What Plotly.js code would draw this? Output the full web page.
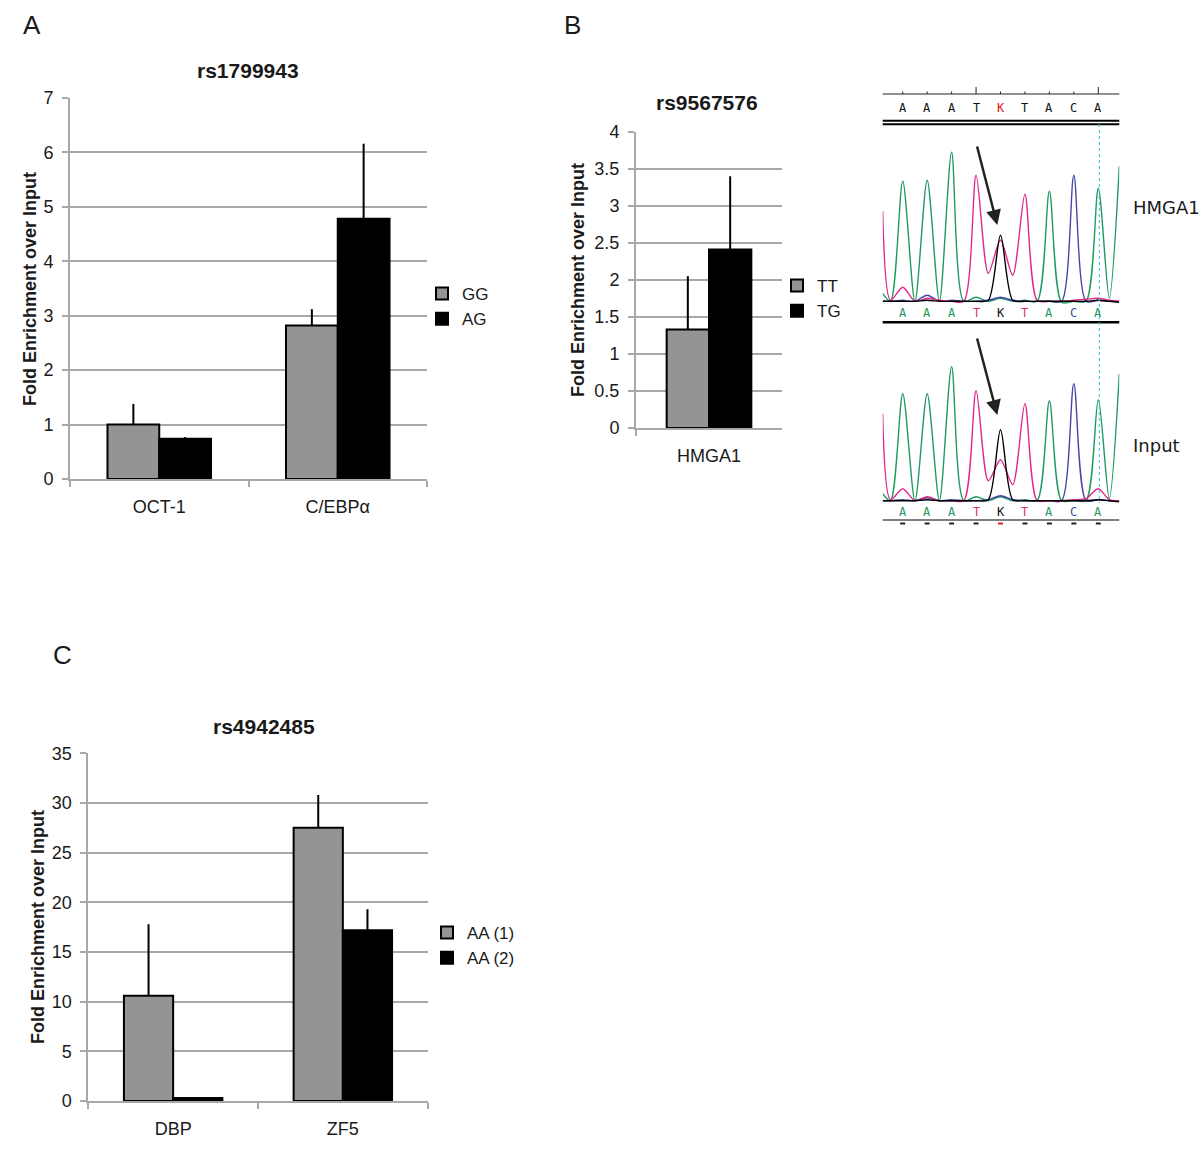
<!DOCTYPE html>
<html>
<head>
<meta charset="utf-8">
<script src="https://cdn.plot.ly/plotly-3.0.1.min.js"></script>
<style>body{margin:0;background:#fff}#fig{width:1200px;height:1149px}</style>
</head>
<body>
<div id="fig"></div>
<script>
// A: rs1799943
var catsA = ['OCT-1', 'C/EBPα'];
var ggVals = [1.0, 2.82];
var ggErr = [0.38, 0.30];
var agVals = [0.74, 4.78];
var agErr = [0.03, 1.38];

// B: rs9567576
var catsB = ['HMGA1'];
var ttVals = [1.33];
var ttErr = [0.72];
var tgVals = [2.41];
var tgErr = [0.99];

// C: rs4942485
var catsC = ['DBP', 'ZF5'];
var aa1Vals = [10.6, 27.5];
var aa1Err = [7.2, 3.3];
var aa2Vals = [0.3, 17.2];
var aa2Err = [0, 2.1];

// chromatogram: base calls and trace knots (x in base index, y in signal)
var seqTop = ['A', 'A', 'A', 'T', 'K', 'T', 'A', 'C', 'A'];
var knotX = [-0.82, -0.5, 0, 0.5, 1, 1.5, 2, 2.5, 3, 3.5, 4, 4.5, 5, 5.5, 6, 6.5, 7, 7.5, 8, 8.45, 8.86];
var hmGreen = [10, 2, 122, 2, 123, 2, 151, 2, 6, 2, 5, 2, 3, 2, 112, 1, 2, 2, 115, 5, 137];
var hmPink  = [92, 3, 16, 2, 5, 3, 2, 2, 128, 30, 63, 28, 109, 3, 2, 2, 3, 4, 5, 3, 2];
var hmBlue  = [2, 2, 3, 2, 8, 2, 3, 2, 2, 3, 6, 3, 2, 2, 2, 2, 128, 2, 3, 2, 2];
var hmBlack = [2, 2, 2, 2, 3, 2, 2, 2, 2, 3, 68, 3, 2, 2, 2, 2, 2, 2, 3, 2, 1];
var inGreen = [9, 2, 109, 2, 109, 2, 136, 2, 6, 2, 6, 2, 3, 2, 102, 2, 2, 2, 103, 4, 129];
var inPink  = [89, 3, 14, 2, 6, 2, 2, 2, 112, 22, 43, 18, 99, 2, 2, 2, 3, 4, 14, 3, 2];
var inBlue  = [2, 2, 3, 2, 5, 2, 3, 2, 2, 3, 7, 3, 2, 2, 2, 2, 119, 2, 3, 2, 2];
var inBlack = [2, 2, 2, 2, 3, 2, 2, 2, 2, 3, 73, 3, 2, 2, 2, 2, 2, 2, 3, 2, 1];

var W = 1200, H = 1149;
function px(x) { return x / W; }
function py(y) { return 1 - y / H; }

var grey = '#949494';
var gridc = '#a8a8a8';
var font = 'Liberation Sans, Arial, sans-serif';
var baseX0 = 902.7, baseStep = 24.45;

function barTrace(name, x, y, err, color, xa, ya, leg) {
  return {
    type: 'bar', name: name, x: x, y: y, xaxis: xa, yaxis: ya, legend: leg,
    marker: {color: color, line: {color: '#000', width: 2}},
    error_y: {type: 'data', array: err, symmetric: false, arrayminus: err.map(function () { return 0; }),
      color: '#000', thickness: 2, width: 0},
    hoverinfo: 'skip'
  };
}

function chromaTrace(y, color, xa, ya) {
  return {type: 'scatter', mode: 'lines', x: knotX, y: y, xaxis: xa, yaxis: ya, showlegend: false,
    line: {color: color, width: 1.4, shape: 'spline', smoothing: 0.8}, hoverinfo: 'skip'};
}

var green = '#1f9a60', pink = '#e02a8a', blue = '#4646a6';

var data = [
  barTrace('GG', catsA, ggVals, ggErr, grey, 'x', 'y', 'legend'),
  barTrace('AG', catsA, agVals, agErr, '#000', 'x', 'y', 'legend'),
  barTrace('TT', catsB, ttVals, ttErr, grey, 'x2', 'y2', 'legend2'),
  barTrace('TG', catsB, tgVals, tgErr, '#000', 'x2', 'y2', 'legend2'),
  barTrace('AA (1)', catsC, aa1Vals, aa1Err, grey, 'x3', 'y3', 'legend3'),
  barTrace('AA (2)', catsC, aa2Vals, aa2Err, '#000', 'x3', 'y3', 'legend3'),
  chromaTrace(hmGreen, green, 'x4', 'y4'),
  chromaTrace(hmBlue, blue, 'x4', 'y4'),
  chromaTrace(hmPink, pink, 'x4', 'y4'),
  chromaTrace(hmBlack, '#000', 'x4', 'y4'),
  chromaTrace(inGreen, green, 'x5', 'y5'),
  chromaTrace(inBlue, blue, 'x5', 'y5'),
  chromaTrace(inPink, pink, 'x5', 'y5'),
  chromaTrace(inBlack, '#000', 'x5', 'y5')
];

function xAxis(x0, x1, y, n) {
  return {domain: [px(x0), px(x1)], anchor: y, type: 'category', range: [-0.5, n - 0.5],
    showgrid: false, zeroline: false, showline: true, linecolor: gridc, linewidth: 2,
    ticks: 'outside', tickson: 'boundaries', ticklen: 6, tickcolor: gridc, tickwidth: 2,
    ticklabelstandoff: 10, tickfont: {family: font, size: 18, color: '#1a1a1a'}, fixedrange: true};
}
function yAxis(top, bottom, x, max, dt) {
  return {domain: [py(bottom), py(top)], anchor: x, range: [0, max], dtick: dt,
    showgrid: true, gridcolor: gridc, gridwidth: 2, zeroline: false,
    showline: true, linecolor: gridc, linewidth: 2,
    ticks: 'outside', ticklen: 6, tickcolor: gridc, tickwidth: 2, ticklabelstandoff: 5,
    tickfont: {family: font, size: 18, color: '#1a1a1a'}, fixedrange: true};
}
function hidden(dom, rng, anchor) {
  return {domain: dom, range: rng, anchor: anchor, visible: false, fixedrange: true};
}

var ann = [];
function txt(s, x, y, size, opts) {
  var a = {text: s, x: px(x), y: py(y), xref: 'paper', yref: 'paper', showarrow: false,
    font: {family: font, size: size, color: '#1a1a1a'}, xanchor: 'center', yanchor: 'middle'};
  for (var k in opts) a[k] = opts[k];
  ann.push(a);
}
txt('A', 32, 25, 26, {});
txt('B', 572, 25, 26, {});
txt('C', 62, 655, 26, {});
txt('<b>rs1799943</b>', 248, 70, 21, {});
txt('<b>rs9567576</b>', 707, 103, 21, {});
txt('<b>rs4942485</b>', 264, 726, 21, {});
txt('<b>Fold Enrichment over Input</b>', 30, 289, 18, {textangle: -90});
txt('<b>Fold Enrichment over Input</b>', 578, 280, 18, {textangle: -90});
txt('<b>Fold Enrichment over Input</b>', 38, 927, 18, {textangle: -90});

// chromatogram text
var mono = 'DejaVu Sans Mono, monospace';
var lowCol = {A: green, T: '#e0306a', K: '#111', C: blue};
seqTop.forEach(function (b, i) {
  var xx = baseX0 + baseStep * i;
  txt(b, xx, 108, 12, {font: {family: mono, size: 12, color: b === 'K' ? '#e02020' : '#111'}});
  txt(b, xx, 313, 12, {font: {family: mono, size: 12, color: lowCol[b]}});
  txt(b, xx, 512, 12, {font: {family: mono, size: 12, color: lowCol[b]}});
});
txt('HMGA1', 1131, 207, 18, {xanchor: 'left', font: {family: 'DejaVu Sans', size: 18, color: '#1a1a1a'}});
txt('Input', 1131, 445, 18, {xanchor: 'left', font: {family: 'DejaVu Sans', size: 18, color: '#1a1a1a'}});
[[997.3, 225, 976.7, 145], [997.3, 415, 976.7, 337]].forEach(function (p) {
  ann.push({x: px(p[0]), y: py(p[1]), xref: 'paper', yref: 'paper', showarrow: true,
    ax: p[2] - p[0], ay: p[3] - p[1], arrowhead: 2, arrowsize: 1.2, arrowwidth: 2.5, arrowcolor: '#222', text: ''});
});

var shapes = [];
function seg(x0, y0, x1, y1, color, w, dash) {
  shapes.push({type: 'line', xref: 'paper', yref: 'paper', x0: px(x0), y0: py(y0), x1: px(x1), y1: py(y1),
    line: {color: color, width: w, dash: dash || 'solid'}});
}
seg(882.7, 94, 1119.3, 94, '#222', 1);
seqTop.forEach(function (b, i) {
  var xx = baseX0 + baseStep * i;
  seg(xx, (i === 3 || i === 8) ? 87 : 91.5, xx, 94, '#222', 1);
  seg(xx - 2.5, 523.5, xx + 2.5, 523.5, b === 'K' ? '#e02020' : '#222', 2);
});
seg(882.7, 120.8, 1119.3, 120.8, '#000', 2);
seg(882.7, 124.2, 1119.3, 124.2, '#000', 2);
seg(882.7, 322.3, 1119.3, 322.3, '#000', 2.5);
seg(882.7, 520, 1119.3, 520, '#000', 1.2);
seg(1099.3, 124, 1099.3, 503, '#33bbdd', 1, 'dot');

function legend(x, y) {
  return {x: px(x), y: py(y), xref: 'paper', yref: 'paper', xanchor: 'left', yanchor: 'top',
    bgcolor: 'rgba(0,0,0,0)', font: {family: font, size: 17, color: '#1a1a1a'},
    itemwidth: 30, tracegroupgap: 0, traceorder: 'normal'};
}

var layout = {
  width: W, height: H, margin: {l: 0, r: 0, t: 0, b: 0},
  paper_bgcolor: '#fff', plot_bgcolor: 'rgba(0,0,0,0)',
  barmode: 'group', bargap: 0.42, bargroupgap: 0,
  xaxis: xAxis(70, 427, 'y', catsA.length),
  yaxis: yAxis(98, 479, 'x', 7, 1),
  xaxis2: xAxis(636, 782, 'y2', catsB.length),
  yaxis2: yAxis(131.7, 428, 'x2', 4, 0.5),
  xaxis3: xAxis(88.3, 427.7, 'y3', catsC.length),
  yaxis3: yAxis(753.3, 1101, 'x3', 35, 5),
  xaxis4: hidden([px(882.7), px(1119.3)], [-0.82, 8.86], 'y4'),
  yaxis4: hidden([py(309.3), py(143.3)], [-6, 160], 'x4'),
  xaxis5: hidden([px(882.7), px(1119.3)], [-0.82, 8.86], 'y5'),
  yaxis5: hidden([py(508.7), py(342.7)], [-6, 160], 'x5'),
  legend: legend(422, 276),
  legend2: legend(777, 268),
  legend3: legend(427, 915),
  annotations: ann,
  shapes: shapes,
  showlegend: true
};

Plotly.newPlot('fig', data, layout, {displayModeBar: false, staticPlot: true});
</script>
</body>
</html>
